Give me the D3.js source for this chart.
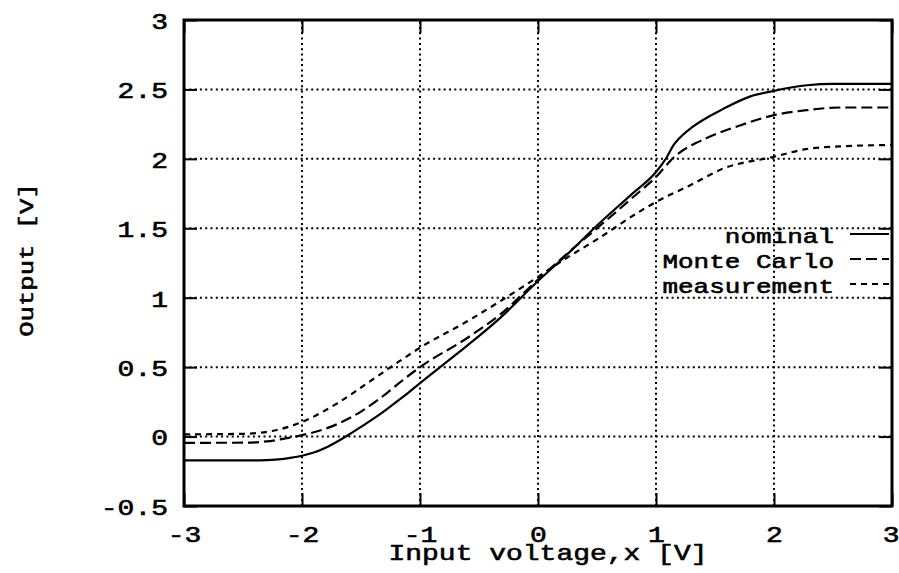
<!DOCTYPE html>
<html><head><meta charset="utf-8">
<script src="https://cdn.jsdelivr.net/npm/d3@7"></script>
<style>body{margin:0;background:#fff}svg{display:block}</style>
</head><body>
<svg id="c" width="899" height="573"></svg>
<script>
const xTicks = [-3, -2, -1, 0, 1, 2, 3];
const xTickLabels = ["-3", "-2", "-1", "0", "1", "2", "3"];
const yTicks = [-0.5, 0, 0.5, 1, 1.5, 2, 2.5, 3];
const yTickLabels = ["-0.5", "0", "0.5", "1", "1.5", "2", "2.5", "3"];
const seriesNames = ["nominal", "Monte Carlo", "measurement"];

const nominalX = [-3, -2.5, -2.3, -2.2, -2.1, -2.0, -1.9, -1.8, -1.7, -1.6, -1.5, -1.4, -1.3, -1.2, -1.1, -1.0, -0.8, -0.6, -0.32, 0, 0.27, 0.5, 0.8, 1.0, 1.09, 1.15, 1.2, 1.31, 1.57, 1.8, 2.0, 2.28, 2.5, 3.0];
const nominalY = [-0.172, -0.172, -0.170, -0.164, -0.153, -0.138, -0.115, -0.08, -0.035, 0.015, 0.07, 0.125, 0.185, 0.25, 0.315, 0.385, 0.52, 0.655, 0.855, 1.12, 1.33, 1.52, 1.75, 1.905, 2.01, 2.10, 2.15, 2.23, 2.36, 2.45, 2.49, 2.53, 2.54, 2.54];

const monteX = [-3, -2.5, -2.3, -2.15, -2.0, -1.7, -1.5, -1.3, -1.17, -1.0, -0.6, -0.32, 0, 0.25, 0.5, 0.8, 1.0, 1.15, 1.43, 1.71, 2.0, 2.27, 2.56, 3.0];
const monteY = [-0.045, -0.044, -0.035, -0.015, 0.01, 0.09, 0.18, 0.30, 0.39, 0.50, 0.71, 0.88, 1.13, 1.32, 1.50, 1.72, 1.87, 2.01, 2.15, 2.24, 2.315, 2.35, 2.37, 2.37];

const measX = [-3, -2.5, -2.2, -2.0, -1.7, -1.42, -1.17, -1.0, -0.6, -0.32, 0, 0.25, 0.5, 0.86, 1.0, 1.29, 1.57, 2.0, 2.27, 2.56, 3.0];
const measY = [0.016, 0.02, 0.05, 0.105, 0.24, 0.40, 0.545, 0.64, 0.83, 0.975, 1.15, 1.29, 1.42, 1.62, 1.69, 1.81, 1.93, 2.015, 2.07, 2.09, 2.10];

const W = 899, H = 573;
const m = {left: 184, right: 7, top: 20, bottom: 67};
const svg = d3.select("#c");
const x = d3.scaleLinear().domain([-3, 3]).range([m.left, W - m.right]);
const y = d3.scaleLinear().domain([-0.5, 3]).range([H - m.bottom, m.top]);
const font = "'Liberation Mono', 'Courier New', monospace";
const sxBig = 1.217, sxSmall = 1.238;

function styleText(sel, size) {
  sel.style("font-family", font).style("font-size", size + "px")
    .attr("fill", "#000").attr("stroke", "#000").attr("stroke-width", 0.6);
}

// grid
const g = svg.append("g");
g.selectAll(".gx").data(xTicks.slice(1, -1)).join("line")
  .attr("x1", d => x(d)).attr("x2", d => x(d))
  .attr("y1", y(-0.5)).attr("y2", y(3))
  .attr("stroke", "#000").attr("stroke-width", 2).attr("stroke-dasharray", "2,3.3");
g.selectAll(".gy").data(yTicks.slice(1, -1)).join("line")
  .attr("y1", d => y(d)).attr("y2", d => y(d))
  .attr("x1", x(-3)).attr("x2", x(3))
  .attr("stroke", "#000").attr("stroke-width", 2).attr("stroke-dasharray", "2,3.3");

// axes (ticks inward, mirrored)
const tl = 13;
const axB = d3.axisBottom(x).tickValues(xTicks).tickSize(-tl).tickFormat((d, i) => xTickLabels[i]);
const axT = d3.axisTop(x).tickValues(xTicks).tickSize(-tl).tickFormat("");
const axL = d3.axisLeft(y).tickValues(yTicks).tickSize(-tl).tickFormat((d, i) => yTickLabels[i]);
const axR = d3.axisRight(y).tickValues(yTicks).tickSize(-tl).tickFormat("");
function styleAx(sel) {
  sel.select(".domain").remove();
  sel.selectAll(".tick line").attr("stroke", "#000").attr("stroke-width", 2);
  sel.selectAll(".tick text").call(styleText, 23);
}
const gb = svg.append("g").attr("transform", `translate(0,${y(-0.5)})`).call(axB).call(styleAx);
gb.selectAll(".tick text").attr("y", 36).attr("dy", 0)
  .attr("transform", `scale(${sxBig},1)`)
  .attr("text-anchor", (d, i) => i === xTicks.length - 1 ? "end" : "middle")
  .attr("x", (d, i) => i === xTicks.length - 1 ? 7 / sxBig : 0);
svg.append("g").attr("transform", `translate(0,${y(3)})`).call(axT).call(styleAx);
const gl = svg.append("g").attr("transform", `translate(${x(-3)},0)`).call(axL).call(styleAx);
gl.selectAll(".tick text").attr("x", -16 / sxBig).attr("dy", "0.36em")
  .attr("transform", `scale(${sxBig},1)`);
svg.append("g").attr("transform", `translate(${x(3)},0)`).call(axR).call(styleAx);

// curves
const line = d3.line().x(d => x(d[0])).y(d => y(d[1])).curve(d3.curveMonotoneX);
const series = [
  {name: seriesNames[0], xs: nominalX, ys: nominalY, dash: null},
  {name: seriesNames[1], xs: monteX, ys: monteY, dash: "11,5"},
  {name: seriesNames[2], xs: measX, ys: measY, dash: "6,5"}
];
series.forEach(s => {
  svg.append("path").datum(d3.zip(s.xs, s.ys))
    .attr("d", line).attr("fill", "none").attr("stroke", "#000")
    .attr("stroke-width", 2.2).attr("stroke-dasharray", s.dash);
});

// frame
svg.append("rect").attr("x", x(-3)).attr("y", y(3))
  .attr("width", x(3) - x(-3)).attr("height", y(-0.5) - y(3))
  .attr("fill", "none").attr("stroke", "#000").attr("stroke-width", 3);

// legend
const leg = svg.append("g");
series.forEach((s, i) => {
  const by = 243 + i * 25;
  leg.append("text").attr("transform", `translate(834,${by}) scale(${sxSmall},1)`)
    .attr("text-anchor", "end").call(styleText, 21).text(s.name);
  leg.append("line").attr("x1", 850).attr("x2", 889).attr("y1", by - 9).attr("y2", by - 9)
    .attr("stroke", "#000").attr("stroke-width", 2.2).attr("stroke-dasharray", s.dash);
});

// axis labels
svg.append("text").attr("transform", `translate(548,560) scale(${sxBig},1)`).attr("text-anchor", "middle")
  .call(styleText, 23).text("Input voltage,x [V]");
svg.append("text").attr("transform", `translate(33,260) rotate(-90) scale(1.22,1)`).attr("text-anchor", "middle")
  .call(styleText, 21).text("Output [V]");
</script>
</body></html>
